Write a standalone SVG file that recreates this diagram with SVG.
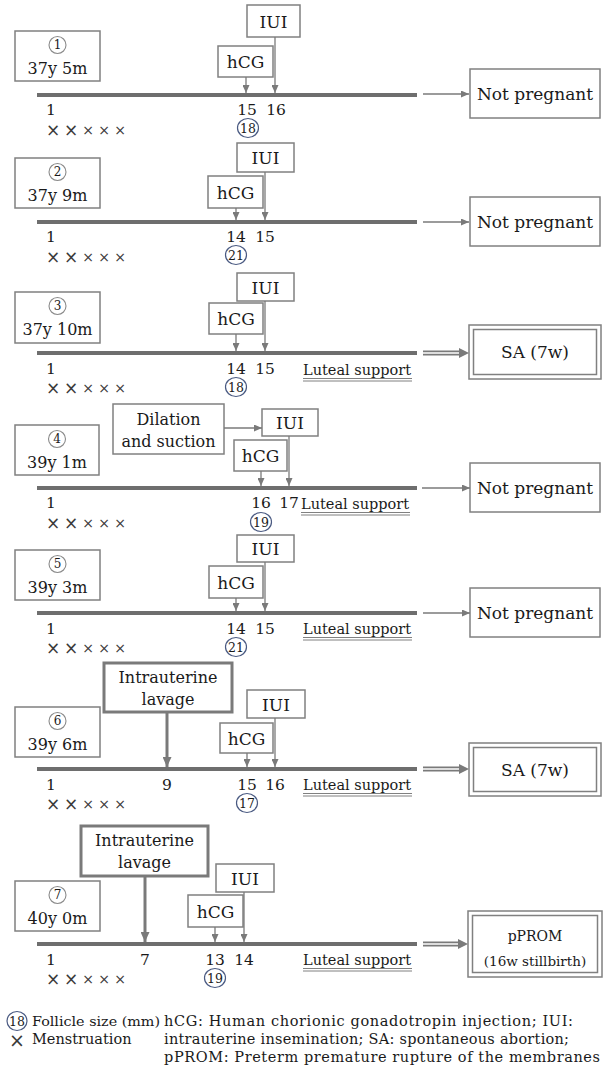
<svg xmlns="http://www.w3.org/2000/svg" width="605" height="1070" viewBox="0 0 605 1070">
<style>
.box{fill:#fff;stroke:#808080;stroke-width:1.5}
.tbox{fill:#fff;stroke:#7a7a7a;stroke-width:3}
.tl{stroke:#6e6e6e;stroke-width:4;fill:none}
.arr{stroke:#7a7a7a;stroke-width:1.3;fill:none;marker-end:url(#ah)}
.tarr{stroke:#7a7a7a;stroke-width:3;fill:none;marker-end:url(#ah2)}
.t{font-family:'DejaVu Serif','Liberation Serif',serif;fill:#1a1a1a}
.m{text-anchor:middle}
.lbl{font-size:16px}
.box17{font-size:17px}
.num{font-size:15.5px}
.lut{font-size:14.5px}
.ul{stroke:#808080;stroke-width:1}
.cn{fill:#fff;stroke:#8a8a8a;stroke-width:1.1}
.fc{fill:#fff;stroke:#4a5a82;stroke-width:1.2}
.cnt{font-size:12px}
.fct{font-size:12.5px}
.x{font-family:'DejaVu Sans',sans-serif;fill:#3a3a3a;text-anchor:middle}
.xb{font-size:17px}
.xs{font-size:14px}
.dsh{stroke:#7a7a7a;stroke-width:5}
.dsi{stroke:#fff;stroke-width:1.4}
.dah{fill:#7a7a7a}
.leg{font-size:14.5px}
</style>
<defs>
<marker id="ah" markerUnits="userSpaceOnUse" markerWidth="8" markerHeight="7" refX="8" refY="3.5" orient="auto"><path d="M0,0 L8,3.5 L0,7 z" fill="#7a7a7a"/></marker>
<marker id="ah2" markerUnits="userSpaceOnUse" markerWidth="10" markerHeight="9" refX="10" refY="4.5" orient="auto"><path d="M0,0 L10,4.5 L0,9 z" fill="#7a7a7a"/></marker>
</defs>

<!-- ===== Panel 1 ===== -->
<g id="p1-label"><rect class="box" x="15" y="31" width="85" height="50"/><circle class="cn" cx="57.5" cy="45" r="8.5"/><text class="t m cnt" x="57.5" y="49.3">1</text><text class="t m lbl" x="57.5" y="74">37y 5m</text></g>
<g id="p1-iui"><rect class="box" x="247" y="5" width="53" height="32"/><text class="t m box17" x="273.5" y="28">IUI</text></g>
<g id="p1-hcg"><rect class="box" x="218" y="46" width="55" height="31"/><text class="t m box17" x="245.5" y="68">hCG</text></g>
<g id="p1-timeline"><line class="tl" x1="37" y1="95" x2="417" y2="95"/>
<text class="t m num" x="51" y="115">1</text><text class="t m num" x="247" y="115">15</text><text class="t m num" x="276" y="115">16</text>
<text class="x xb" x="53" y="136">×</text><text class="x xb" x="71" y="136">×</text><text class="x xs" x="88" y="135">×</text><text class="x xs" x="104" y="135">×</text><text class="x xs" x="120" y="135">×</text>
<ellipse class="fc" cx="248" cy="128" rx="10.5" ry="9.5"/><text class="t m fct" x="248" y="132.5">18</text></g>
<g id="p1-outcome"><rect class="box" x="470" y="69" width="130" height="49"/><text class="t m box17" x="535" y="100">Not pregnant</text></g>

<!-- ===== Panel 2 ===== -->
<g id="p2-label"><rect class="box" x="15" y="158" width="85" height="50"/><circle class="cn" cx="57.5" cy="172" r="8.5"/><text class="t m cnt" x="57.5" y="176.3">2</text><text class="t m lbl" x="57.5" y="201">37y 9m</text></g>
<g id="p2-iui"><rect class="box" x="237" y="143" width="57" height="29"/><text class="t m box17" x="265.5" y="164">IUI</text></g>
<g id="p2-hcg"><rect class="box" x="208" y="176" width="55" height="32"/><text class="t m box17" x="235.5" y="198.5">hCG</text></g>
<g id="p2-timeline"><line class="tl" x1="37" y1="222" x2="417" y2="222"/>
<text class="t m num" x="51" y="242">1</text><text class="t m num" x="236" y="242">14</text><text class="t m num" x="265" y="242">15</text>
<text class="x xb" x="53" y="263">×</text><text class="x xb" x="71" y="263">×</text><text class="x xs" x="88" y="262">×</text><text class="x xs" x="104" y="262">×</text><text class="x xs" x="120" y="262">×</text>
<ellipse class="fc" cx="236" cy="255" rx="10.5" ry="9.5"/><text class="t m fct" x="236" y="259.5">21</text></g>
<g id="p2-outcome"><rect class="box" x="470" y="197" width="130" height="49"/><text class="t m box17" x="535" y="228">Not pregnant</text></g>

<!-- ===== Panel 3 ===== -->
<g id="p3-label"><rect class="box" x="15" y="292" width="85" height="51"/><circle class="cn" cx="57.5" cy="306" r="8.5"/><text class="t m cnt" x="57.5" y="310.3">3</text><text class="t m lbl" x="57.5" y="335">37y 10m</text></g>
<g id="p3-iui"><rect class="box" x="237" y="273" width="57" height="28"/><text class="t m box17" x="265.5" y="293.5">IUI</text></g>
<g id="p3-hcg"><rect class="box" x="209" y="303" width="54" height="31"/><text class="t m box17" x="236" y="325">hCG</text></g>
<g id="p3-timeline"><line class="tl" x1="37" y1="353" x2="417" y2="353"/>
<text class="t m num" x="51" y="374">1</text><text class="t m num" x="236" y="374">14</text><text class="t m num" x="265" y="374">15</text>
<text class="t lut" x="303" y="375">Luteal support</text><line class="ul" x1="303" y1="378.5" x2="412" y2="378.5"/><line class="ul" x1="303" y1="381" x2="412" y2="381"/>
<text class="x xb" x="53" y="394">×</text><text class="x xb" x="71" y="394">×</text><text class="x xs" x="88" y="393">×</text><text class="x xs" x="104" y="393">×</text><text class="x xs" x="120" y="393">×</text>
<ellipse class="fc" cx="236" cy="387" rx="10.5" ry="9.5"/><text class="t m fct" x="236" y="391.5">18</text></g>
<g id="p3-outcome"><rect class="box" x="469" y="325" width="132" height="54"/><rect class="box" x="473.5" y="329.5" width="123" height="45"/><text class="t m box17" x="535" y="358">SA (7w)</text></g>

<!-- ===== Panel 4 ===== -->
<g id="p4-label"><rect class="box" x="15" y="425" width="84" height="50"/><circle class="cn" cx="57" cy="439" r="8.5"/><text class="t m cnt" x="57" y="443.3">4</text><text class="t m lbl" x="57" y="468">39y 1m</text></g>
<g id="p4-dilation"><rect class="box" x="113" y="404" width="111" height="50"/><text class="t m lbl" x="168.5" y="425">Dilation</text><text class="t m lbl" x="168.5" y="447">and suction</text></g>
<g id="p4-iui"><rect class="box" x="262" y="409" width="56" height="27"/><text class="t m box17" x="290" y="429">IUI</text></g>
<g id="p4-hcg"><rect class="box" x="234" y="440" width="53" height="31"/><text class="t m box17" x="260.5" y="462">hCG</text></g>
<g id="p4-timeline"><line class="tl" x1="37" y1="488" x2="417" y2="488"/>
<text class="t m num" x="51" y="508">1</text><text class="t m num" x="261" y="508">16</text><text class="t m num" x="289" y="508">17</text>
<text class="t lut" x="301" y="509">Luteal support</text><line class="ul" x1="301" y1="512.5" x2="410" y2="512.5"/><line class="ul" x1="301" y1="515" x2="410" y2="515"/>
<text class="x xb" x="53" y="529">×</text><text class="x xb" x="71" y="529">×</text><text class="x xs" x="88" y="528">×</text><text class="x xs" x="104" y="528">×</text><text class="x xs" x="120" y="528">×</text>
<ellipse class="fc" cx="261" cy="522" rx="10.5" ry="9.5"/><text class="t m fct" x="261" y="526.5">19</text></g>
<g id="p4-outcome"><rect class="box" x="470" y="463" width="130" height="49"/><text class="t m box17" x="535" y="494">Not pregnant</text></g>

<!-- ===== Panel 5 ===== -->
<g id="p5-label"><rect class="box" x="15" y="550" width="85" height="50"/><circle class="cn" cx="57.5" cy="564" r="8.5"/><text class="t m cnt" x="57.5" y="568.3">5</text><text class="t m lbl" x="57.5" y="593">39y 3m</text></g>
<g id="p5-iui"><rect class="box" x="237" y="535" width="57" height="27"/><text class="t m box17" x="265.5" y="555">IUI</text></g>
<g id="p5-hcg"><rect class="box" x="209" y="566" width="54" height="32"/><text class="t m box17" x="236" y="588.5">hCG</text></g>
<g id="p5-timeline"><line class="tl" x1="37" y1="613" x2="417" y2="613"/>
<text class="t m num" x="51" y="634">1</text><text class="t m num" x="236" y="634">14</text><text class="t m num" x="265" y="634">15</text>
<text class="t lut" x="303" y="634">Luteal support</text><line class="ul" x1="303" y1="637.5" x2="412" y2="637.5"/><line class="ul" x1="303" y1="640" x2="412" y2="640"/>
<text class="x xb" x="53" y="654">×</text><text class="x xb" x="71" y="654">×</text><text class="x xs" x="88" y="653">×</text><text class="x xs" x="104" y="653">×</text><text class="x xs" x="120" y="653">×</text>
<ellipse class="fc" cx="236" cy="647" rx="10.5" ry="9.5"/><text class="t m fct" x="236" y="651.5">21</text></g>
<g id="p5-outcome"><rect class="box" x="470" y="588" width="130" height="49"/><text class="t m box17" x="535" y="619">Not pregnant</text></g>

<!-- ===== Panel 6 ===== -->
<g id="p6-lavage"><rect class="tbox" x="104" y="663" width="128" height="49"/><text class="t m lbl" x="168" y="683">Intrauterine</text><text class="t m lbl" x="168" y="705">lavage</text></g>
<g id="p6-label"><rect class="box" x="15" y="707" width="85" height="50"/><circle class="cn" cx="57.5" cy="721" r="8.5"/><text class="t m cnt" x="57.5" y="725.3">6</text><text class="t m lbl" x="57.5" y="750">39y 6m</text></g>
<g id="p6-iui"><rect class="box" x="247" y="690" width="58" height="28"/><text class="t m box17" x="276" y="710.5">IUI</text></g>
<g id="p6-hcg"><rect class="box" x="220" y="723" width="53" height="30"/><text class="t m box17" x="246.5" y="744.5">hCG</text></g>
<g id="p6-timeline"><line class="tl" x1="37" y1="769" x2="417" y2="769"/>
<text class="t m num" x="51" y="790">1</text><text class="t m num" x="167" y="790">9</text><text class="t m num" x="247" y="790">15</text><text class="t m num" x="275" y="790">16</text>
<text class="t lut" x="303" y="790">Luteal support</text><line class="ul" x1="303" y1="793.5" x2="412" y2="793.5"/><line class="ul" x1="303" y1="796" x2="412" y2="796"/>
<text class="x xb" x="53" y="810">×</text><text class="x xb" x="71" y="810">×</text><text class="x xs" x="88" y="809">×</text><text class="x xs" x="104" y="809">×</text><text class="x xs" x="120" y="809">×</text>
<ellipse class="fc" cx="247" cy="803" rx="10.5" ry="9.5"/><text class="t m fct" x="247" y="807.5">17</text></g>
<g id="p6-outcome"><rect class="box" x="469" y="743" width="132" height="53"/><rect class="box" x="473.5" y="747.5" width="123" height="44"/><text class="t m box17" x="535" y="775.5">SA (7w)</text></g>

<!-- ===== Panel 7 ===== -->
<g id="p7-lavage"><rect class="tbox" x="81" y="826" width="127" height="50"/><text class="t m lbl" x="144.5" y="846">Intrauterine</text><text class="t m lbl" x="144.5" y="868">lavage</text></g>
<g id="p7-label"><rect class="box" x="15" y="881" width="85" height="50"/><circle class="cn" cx="57.5" cy="895" r="8.5"/><text class="t m cnt" x="57.5" y="899.3">7</text><text class="t m lbl" x="57.5" y="924">40y 0m</text></g>
<g id="p7-iui"><rect class="box" x="216" y="864" width="58" height="28"/><text class="t m box17" x="245" y="884.5">IUI</text></g>
<g id="p7-hcg"><rect class="box" x="188" y="895" width="55" height="32"/><text class="t m box17" x="215.5" y="917.5">hCG</text></g>
<g id="p7-timeline"><line class="tl" x1="37" y1="944" x2="417" y2="944"/>
<text class="t m num" x="51" y="965">1</text><text class="t m num" x="145" y="965">7</text><text class="t m num" x="215" y="965">13</text><text class="t m num" x="244" y="965">14</text>
<text class="t lut" x="303" y="965">Luteal support</text><line class="ul" x1="303" y1="968.5" x2="412" y2="968.5"/><line class="ul" x1="303" y1="971" x2="412" y2="971"/>
<text class="x xb" x="53" y="985">×</text><text class="x xb" x="71" y="985">×</text><text class="x xs" x="88" y="984">×</text><text class="x xs" x="104" y="984">×</text><text class="x xs" x="120" y="984">×</text>
<ellipse class="fc" cx="215" cy="978" rx="10.5" ry="9.5"/><text class="t m fct" x="215" y="982.5">19</text></g>
<g id="p7-outcome"><rect class="box" x="468" y="911" width="134" height="66"/><rect class="box" x="472.5" y="915.5" width="125" height="57"/><text class="t m" style="font-size:14px" x="535" y="941">pPROM</text><text class="t m" style="font-size:13.5px" x="535" y="966">(16w stillbirth)</text></g>

<!-- ===== Legend ===== -->
<g id="legend">
<ellipse class="fc" cx="17" cy="1021" rx="10" ry="9.5"/><text class="t m fct" x="17" y="1025.5">18</text>
<text class="t" style="font-size:13.3px" x="32" y="1026" textLength="128" lengthAdjust="spacingAndGlyphs">Follicle size (mm)</text>
<text class="x" style="font-size:19px" x="17" y="1047">×</text>
<text class="t" style="font-size:14.5px" x="32" y="1044">Menstruation</text>
<text class="t leg" x="164" y="1026" textLength="409" lengthAdjust="spacing">hCG: Human chorionic gonadotropin injection; IUI:</text>
<text class="t leg" x="164" y="1044" textLength="405" lengthAdjust="spacing">intrauterine insemination; SA: spontaneous abortion;</text>
<text class="t leg" x="164" y="1062" textLength="436" lengthAdjust="spacing">pPROM: Preterm premature rupture of the membranes</text>
</g>

<!-- ===== Connectors ===== -->
<g id="connectors">
<line class="arr" x1="246" y1="77" x2="246" y2="93"/>
<line class="arr" x1="275" y1="37" x2="275" y2="93"/>
<line class="arr" x1="423" y1="94" x2="469" y2="94"/>

<line class="arr" x1="236" y1="208" x2="236" y2="220"/>
<line class="arr" x1="265" y1="172" x2="265" y2="220"/>
<line class="arr" x1="423" y1="222" x2="469" y2="222"/>

<line class="arr" x1="236" y1="334" x2="236" y2="351"/>
<line class="arr" x1="265" y1="301" x2="265" y2="351"/>
<line class="dsh" x1="423" y1="353" x2="460" y2="353"/><line class="dsi" x1="423" y1="353" x2="459" y2="353"/><polygon class="dah" points="459,348 469,353 459,358"/>

<line class="arr" x1="224" y1="428" x2="262" y2="428"/>
<line class="arr" x1="261" y1="471" x2="261" y2="486"/>
<line class="arr" x1="289" y1="436" x2="289" y2="486"/>
<line class="arr" x1="422" y1="488" x2="470" y2="488"/>

<line class="arr" x1="236" y1="598" x2="236" y2="611"/>
<line class="arr" x1="265" y1="562" x2="265" y2="611"/>
<line class="arr" x1="423" y1="613" x2="470" y2="613"/>

<line class="tarr" x1="167" y1="712" x2="167" y2="767"/>
<line class="arr" x1="247" y1="753" x2="247" y2="767"/>
<line class="arr" x1="275" y1="718" x2="275" y2="767"/>
<line class="dsh" x1="423" y1="769" x2="460" y2="769"/><line class="dsi" x1="423" y1="769" x2="459" y2="769"/><polygon class="dah" points="459,764 469,769 459,774"/>

<line class="tarr" x1="145" y1="876" x2="145" y2="942"/>
<line class="arr" x1="215" y1="927" x2="215" y2="942"/>
<line class="arr" x1="244" y1="892" x2="244" y2="942"/>
<line class="dsh" x1="423" y1="944" x2="459" y2="944"/><line class="dsi" x1="423" y1="944" x2="458" y2="944"/><polygon class="dah" points="458,939 468,944 458,949"/>
</g>
</svg>
